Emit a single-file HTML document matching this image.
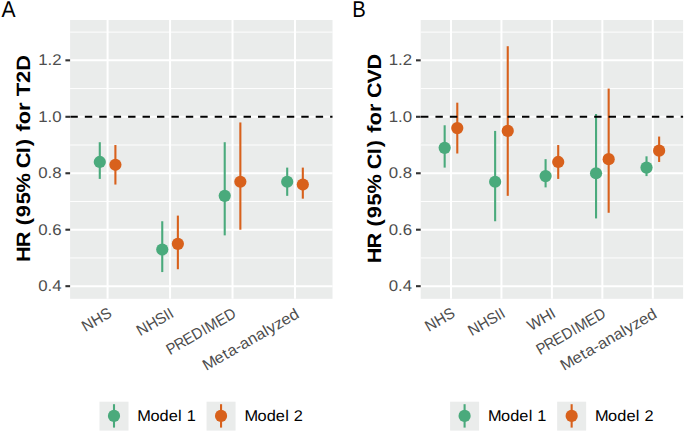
<!DOCTYPE html>
<html><head><meta charset="utf-8"><style>
html,body{margin:0;padding:0;background:#fff;}
svg{display:block;}
text{text-rendering:geometricPrecision;}
.t{font-family:"Liberation Sans",sans-serif;font-size:15.5px;fill:#4d4d4d;}
.lt{font-family:"Liberation Sans",sans-serif;font-size:15.5px;fill:#000;}
.tt{font-family:"Liberation Sans",sans-serif;font-size:19.3px;font-weight:bold;fill:#000;}
.tag{font-family:"Liberation Sans",sans-serif;font-size:22.8px;fill:#000;}
</style></head><body>
<svg width="685" height="432" viewBox="0 0 685 432">
<rect width="685" height="432" fill="#fff"/>
<rect x="70.10" y="20.00" width="262.40" height="278.80" fill="#eaeceb"/>
<line x1="70.10" x2="332.50" y1="257.95" y2="257.95" stroke="#fff" stroke-width="0.95"/>
<line x1="70.10" x2="332.50" y1="201.49" y2="201.49" stroke="#fff" stroke-width="0.95"/>
<line x1="70.10" x2="332.50" y1="145.03" y2="145.03" stroke="#fff" stroke-width="0.95"/>
<line x1="70.10" x2="332.50" y1="88.57" y2="88.57" stroke="#fff" stroke-width="0.95"/>
<line x1="70.10" x2="332.50" y1="32.11" y2="32.11" stroke="#fff" stroke-width="0.95"/>
<line x1="70.10" x2="332.50" y1="286.18" y2="286.18" stroke="#fff" stroke-width="2.0"/>
<line x1="70.10" x2="332.50" y1="229.72" y2="229.72" stroke="#fff" stroke-width="2.0"/>
<line x1="70.10" x2="332.50" y1="173.26" y2="173.26" stroke="#fff" stroke-width="2.0"/>
<line x1="70.10" x2="332.50" y1="116.80" y2="116.80" stroke="#fff" stroke-width="2.0"/>
<line x1="70.10" x2="332.50" y1="60.34" y2="60.34" stroke="#fff" stroke-width="2.0"/>
<line x1="107.59" x2="107.59" y1="20.00" y2="298.80" stroke="#fff" stroke-width="2.0"/>
<line x1="170.06" x2="170.06" y1="20.00" y2="298.80" stroke="#fff" stroke-width="2.0"/>
<line x1="232.54" x2="232.54" y1="20.00" y2="298.80" stroke="#fff" stroke-width="2.0"/>
<line x1="295.01" x2="295.01" y1="20.00" y2="298.80" stroke="#fff" stroke-width="2.0"/>
<line x1="99.78" x2="99.78" y1="142.21" y2="178.91" stroke="#4aaa7c" stroke-width="2.1"/>
<circle cx="99.78" cy="161.97" r="6.1" fill="#4aaa7c"/>
<line x1="115.40" x2="115.40" y1="145.03" y2="184.55" stroke="#d8611c" stroke-width="2.1"/>
<circle cx="115.40" cy="164.79" r="6.1" fill="#d8611c"/>
<line x1="162.25" x2="162.25" y1="221.25" y2="272.06" stroke="#4aaa7c" stroke-width="2.1"/>
<circle cx="162.25" cy="249.48" r="6.1" fill="#4aaa7c"/>
<line x1="177.87" x2="177.87" y1="215.60" y2="269.24" stroke="#d8611c" stroke-width="2.1"/>
<circle cx="177.87" cy="243.83" r="6.1" fill="#d8611c"/>
<line x1="224.73" x2="224.73" y1="142.21" y2="235.37" stroke="#4aaa7c" stroke-width="2.1"/>
<circle cx="224.73" cy="195.84" r="6.1" fill="#4aaa7c"/>
<line x1="240.35" x2="240.35" y1="122.45" y2="229.72" stroke="#d8611c" stroke-width="2.1"/>
<circle cx="240.35" cy="181.73" r="6.1" fill="#d8611c"/>
<line x1="287.20" x2="287.20" y1="167.61" y2="195.84" stroke="#4aaa7c" stroke-width="2.1"/>
<circle cx="287.20" cy="181.73" r="6.1" fill="#4aaa7c"/>
<line x1="302.82" x2="302.82" y1="167.61" y2="198.67" stroke="#d8611c" stroke-width="2.1"/>
<circle cx="302.82" cy="184.55" r="6.1" fill="#d8611c"/>
<line x1="70.10" x2="332.50" y1="116.80" y2="116.80" stroke="#000" stroke-width="2.1" stroke-dasharray="7.4 7.03" stroke-dashoffset="-0.3"/>
<line x1="65.40" x2="70.10" y1="286.18" y2="286.18" stroke="#333" stroke-width="2.1"/>
<text x="-21.54 -12.93 -8.62" y="0" class="t" transform="translate(61.50,291.33) scale(1.0851,1)">0.4</text>
<line x1="65.40" x2="70.10" y1="229.72" y2="229.72" stroke="#333" stroke-width="2.1"/>
<text x="-21.54 -12.93 -8.62" y="0" class="t" transform="translate(61.50,234.87) scale(1.0851,1)">0.6</text>
<line x1="65.40" x2="70.10" y1="173.26" y2="173.26" stroke="#333" stroke-width="2.1"/>
<text x="-21.54 -12.93 -8.62" y="0" class="t" transform="translate(61.50,178.41) scale(1.0851,1)">0.8</text>
<line x1="65.40" x2="70.10" y1="116.80" y2="116.80" stroke="#333" stroke-width="2.1"/>
<text x="-21.54 -12.93 -8.62" y="0" class="t" transform="translate(61.50,121.95) scale(1.0851,1)">1.0</text>
<line x1="65.40" x2="70.10" y1="60.34" y2="60.34" stroke="#333" stroke-width="2.1"/>
<text x="-21.54 -12.93 -8.62" y="0" class="t" transform="translate(61.50,65.49) scale(1.0851,1)">1.2</text>
<text x="-32.59 -21.09 -10.04" y="0" class="t" transform="translate(112.49,316.28) rotate(-30) scale(0.9590,1)">NHS</text>
<text x="-41.26 -29.88 -18.94 -8.87 -4.39" y="0" class="t" transform="translate(174.96,316.28) rotate(-30) scale(0.9690,1)">NHSII</text>
<text x="-82.30 -72.63 -61.88 -51.41 -39.68 -34.97 -22.06 -11.59" y="0" class="t" transform="translate(237.44,316.28) rotate(-30) scale(0.9450,1)">PREDIMED</text>
<text x="-102.15 -89.77 -80.65 -75.85 -67.39 -62.38 -53.76 -45.14 -36.39 -32.53 -24.80 -17.35 -8.70" y="0" class="t" transform="translate(300.21,316.80) rotate(-30) scale(1.0625,1)">Meta-analyzed</text>
<text x="-91.32 -78.29 -64.93 -58.93 -51.74 -40.45 -29.89 -13.04 -8.55 4.71 10.90 17.97 23.79 30.21 41.92 49.82 54.96 66.67 77.44" y="0" class="tt" transform="translate(29.90,158.50) rotate(-90) scale(1.1342,1)">HR (95% CI) for T2D</text>
<text x="0" y="0" class="tag" transform="translate(1.60,16.7) scale(0.925,1)">A</text>
<rect x="99.50" y="401.7" width="29" height="28.9" fill="#eaeceb"/>
<line x1="114.00" x2="114.00" y1="404.2" y2="427.6" stroke="#4aaa7c" stroke-width="2.1"/>
<circle cx="114.00" cy="415.9" r="6.1" fill="#4aaa7c"/>
<text x="-0.44 11.98 20.66 29.37 38.19 41.90 46.40" y="0" class="lt" transform="translate(137.80,420.90) scale(1.0549,1)">Model 1</text>
<rect x="206.55" y="401.7" width="29" height="28.9" fill="#eaeceb"/>
<line x1="221.05" x2="221.05" y1="404.2" y2="427.6" stroke="#d8611c" stroke-width="2.1"/>
<circle cx="221.05" cy="415.9" r="6.1" fill="#d8611c"/>
<text x="-0.44 11.98 20.66 29.37 38.19 41.90 46.40" y="0" class="lt" transform="translate(244.85,420.90) scale(1.0549,1)">Model 2</text>
<rect x="420.70" y="20.00" width="262.40" height="278.80" fill="#eaeceb"/>
<line x1="420.70" x2="683.10" y1="257.95" y2="257.95" stroke="#fff" stroke-width="0.95"/>
<line x1="420.70" x2="683.10" y1="201.49" y2="201.49" stroke="#fff" stroke-width="0.95"/>
<line x1="420.70" x2="683.10" y1="145.03" y2="145.03" stroke="#fff" stroke-width="0.95"/>
<line x1="420.70" x2="683.10" y1="88.57" y2="88.57" stroke="#fff" stroke-width="0.95"/>
<line x1="420.70" x2="683.10" y1="32.11" y2="32.11" stroke="#fff" stroke-width="0.95"/>
<line x1="420.70" x2="683.10" y1="286.18" y2="286.18" stroke="#fff" stroke-width="2.0"/>
<line x1="420.70" x2="683.10" y1="229.72" y2="229.72" stroke="#fff" stroke-width="2.0"/>
<line x1="420.70" x2="683.10" y1="173.26" y2="173.26" stroke="#fff" stroke-width="2.0"/>
<line x1="420.70" x2="683.10" y1="116.80" y2="116.80" stroke="#fff" stroke-width="2.0"/>
<line x1="420.70" x2="683.10" y1="60.34" y2="60.34" stroke="#fff" stroke-width="2.0"/>
<line x1="450.98" x2="450.98" y1="20.00" y2="298.80" stroke="#fff" stroke-width="2.0"/>
<line x1="501.44" x2="501.44" y1="20.00" y2="298.80" stroke="#fff" stroke-width="2.0"/>
<line x1="551.90" x2="551.90" y1="20.00" y2="298.80" stroke="#fff" stroke-width="2.0"/>
<line x1="602.36" x2="602.36" y1="20.00" y2="298.80" stroke="#fff" stroke-width="2.0"/>
<line x1="652.82" x2="652.82" y1="20.00" y2="298.80" stroke="#fff" stroke-width="2.0"/>
<line x1="444.67" x2="444.67" y1="125.27" y2="167.61" stroke="#4aaa7c" stroke-width="2.1"/>
<circle cx="444.67" cy="147.85" r="6.1" fill="#4aaa7c"/>
<line x1="457.28" x2="457.28" y1="102.68" y2="153.50" stroke="#d8611c" stroke-width="2.1"/>
<circle cx="457.28" cy="128.09" r="6.1" fill="#d8611c"/>
<line x1="495.13" x2="495.13" y1="130.92" y2="221.25" stroke="#4aaa7c" stroke-width="2.1"/>
<circle cx="495.13" cy="181.73" r="6.1" fill="#4aaa7c"/>
<line x1="507.75" x2="507.75" y1="46.22" y2="195.84" stroke="#d8611c" stroke-width="2.1"/>
<circle cx="507.75" cy="130.92" r="6.1" fill="#d8611c"/>
<line x1="545.59" x2="545.59" y1="159.15" y2="187.38" stroke="#4aaa7c" stroke-width="2.1"/>
<circle cx="545.59" cy="176.08" r="6.1" fill="#4aaa7c"/>
<line x1="558.21" x2="558.21" y1="145.03" y2="178.91" stroke="#d8611c" stroke-width="2.1"/>
<circle cx="558.21" cy="161.97" r="6.1" fill="#d8611c"/>
<line x1="596.05" x2="596.05" y1="113.98" y2="218.43" stroke="#4aaa7c" stroke-width="2.1"/>
<circle cx="596.05" cy="173.26" r="6.1" fill="#4aaa7c"/>
<line x1="608.67" x2="608.67" y1="88.57" y2="212.78" stroke="#d8611c" stroke-width="2.1"/>
<circle cx="608.67" cy="159.15" r="6.1" fill="#d8611c"/>
<line x1="646.52" x2="646.52" y1="156.32" y2="176.08" stroke="#4aaa7c" stroke-width="2.1"/>
<circle cx="646.52" cy="167.61" r="6.1" fill="#4aaa7c"/>
<line x1="659.13" x2="659.13" y1="136.56" y2="161.97" stroke="#d8611c" stroke-width="2.1"/>
<circle cx="659.13" cy="150.68" r="6.1" fill="#d8611c"/>
<line x1="420.70" x2="683.10" y1="116.80" y2="116.80" stroke="#000" stroke-width="2.1" stroke-dasharray="7.4 7.03" stroke-dashoffset="-0.3"/>
<line x1="416.00" x2="420.70" y1="286.18" y2="286.18" stroke="#333" stroke-width="2.1"/>
<text x="-21.54 -12.93 -8.62" y="0" class="t" transform="translate(412.10,291.33) scale(1.0851,1)">0.4</text>
<line x1="416.00" x2="420.70" y1="229.72" y2="229.72" stroke="#333" stroke-width="2.1"/>
<text x="-21.54 -12.93 -8.62" y="0" class="t" transform="translate(412.10,234.87) scale(1.0851,1)">0.6</text>
<line x1="416.00" x2="420.70" y1="173.26" y2="173.26" stroke="#333" stroke-width="2.1"/>
<text x="-21.54 -12.93 -8.62" y="0" class="t" transform="translate(412.10,178.41) scale(1.0851,1)">0.8</text>
<line x1="416.00" x2="420.70" y1="116.80" y2="116.80" stroke="#333" stroke-width="2.1"/>
<text x="-21.54 -12.93 -8.62" y="0" class="t" transform="translate(412.10,121.95) scale(1.0851,1)">1.0</text>
<line x1="416.00" x2="420.70" y1="60.34" y2="60.34" stroke="#333" stroke-width="2.1"/>
<text x="-21.54 -12.93 -8.62" y="0" class="t" transform="translate(412.10,65.49) scale(1.0851,1)">1.2</text>
<text x="-32.59 -21.09 -10.04" y="0" class="t" transform="translate(455.88,316.28) rotate(-30) scale(0.9590,1)">NHS</text>
<text x="-41.26 -29.88 -18.94 -8.87 -4.39" y="0" class="t" transform="translate(506.34,316.28) rotate(-30) scale(0.9690,1)">NHSII</text>
<text x="-30.13 -15.53 -4.34" y="0" class="t" transform="translate(556.80,316.28) rotate(-30) scale(0.9932,1)">WHI</text>
<text x="-82.30 -72.63 -61.88 -51.41 -39.68 -34.97 -22.06 -11.59" y="0" class="t" transform="translate(607.26,316.28) rotate(-30) scale(0.9450,1)">PREDIMED</text>
<text x="-102.15 -89.77 -80.65 -75.85 -67.39 -62.38 -53.76 -45.14 -36.39 -32.53 -24.80 -17.35 -8.70" y="0" class="t" transform="translate(658.02,316.80) rotate(-30) scale(1.0625,1)">Meta-analyzed</text>
<text x="-93.39 -80.20 -66.74 -60.66 -53.35 -41.93 -31.21 -14.23 -9.63 3.73 10.00 17.14 23.04 29.57 41.39 49.37 53.97 66.87 79.51" y="0" class="tt" transform="translate(380.50,158.50) rotate(-90) scale(1.1209,1)">HR (95% CI) for CVD</text>
<text x="0" y="0" class="tag" transform="translate(352.25,16.7) scale(0.89,1)">B</text>
<rect x="450.10" y="401.7" width="29" height="28.9" fill="#eaeceb"/>
<line x1="464.60" x2="464.60" y1="404.2" y2="427.6" stroke="#4aaa7c" stroke-width="2.1"/>
<circle cx="464.60" cy="415.9" r="6.1" fill="#4aaa7c"/>
<text x="-0.44 11.98 20.66 29.37 38.19 41.90 46.40" y="0" class="lt" transform="translate(488.40,420.90) scale(1.0549,1)">Model 1</text>
<rect x="557.15" y="401.7" width="29" height="28.9" fill="#eaeceb"/>
<line x1="571.65" x2="571.65" y1="404.2" y2="427.6" stroke="#d8611c" stroke-width="2.1"/>
<circle cx="571.65" cy="415.9" r="6.1" fill="#d8611c"/>
<text x="-0.44 11.98 20.66 29.37 38.19 41.90 46.40" y="0" class="lt" transform="translate(595.45,420.90) scale(1.0549,1)">Model 2</text>
</svg>
</body></html>
